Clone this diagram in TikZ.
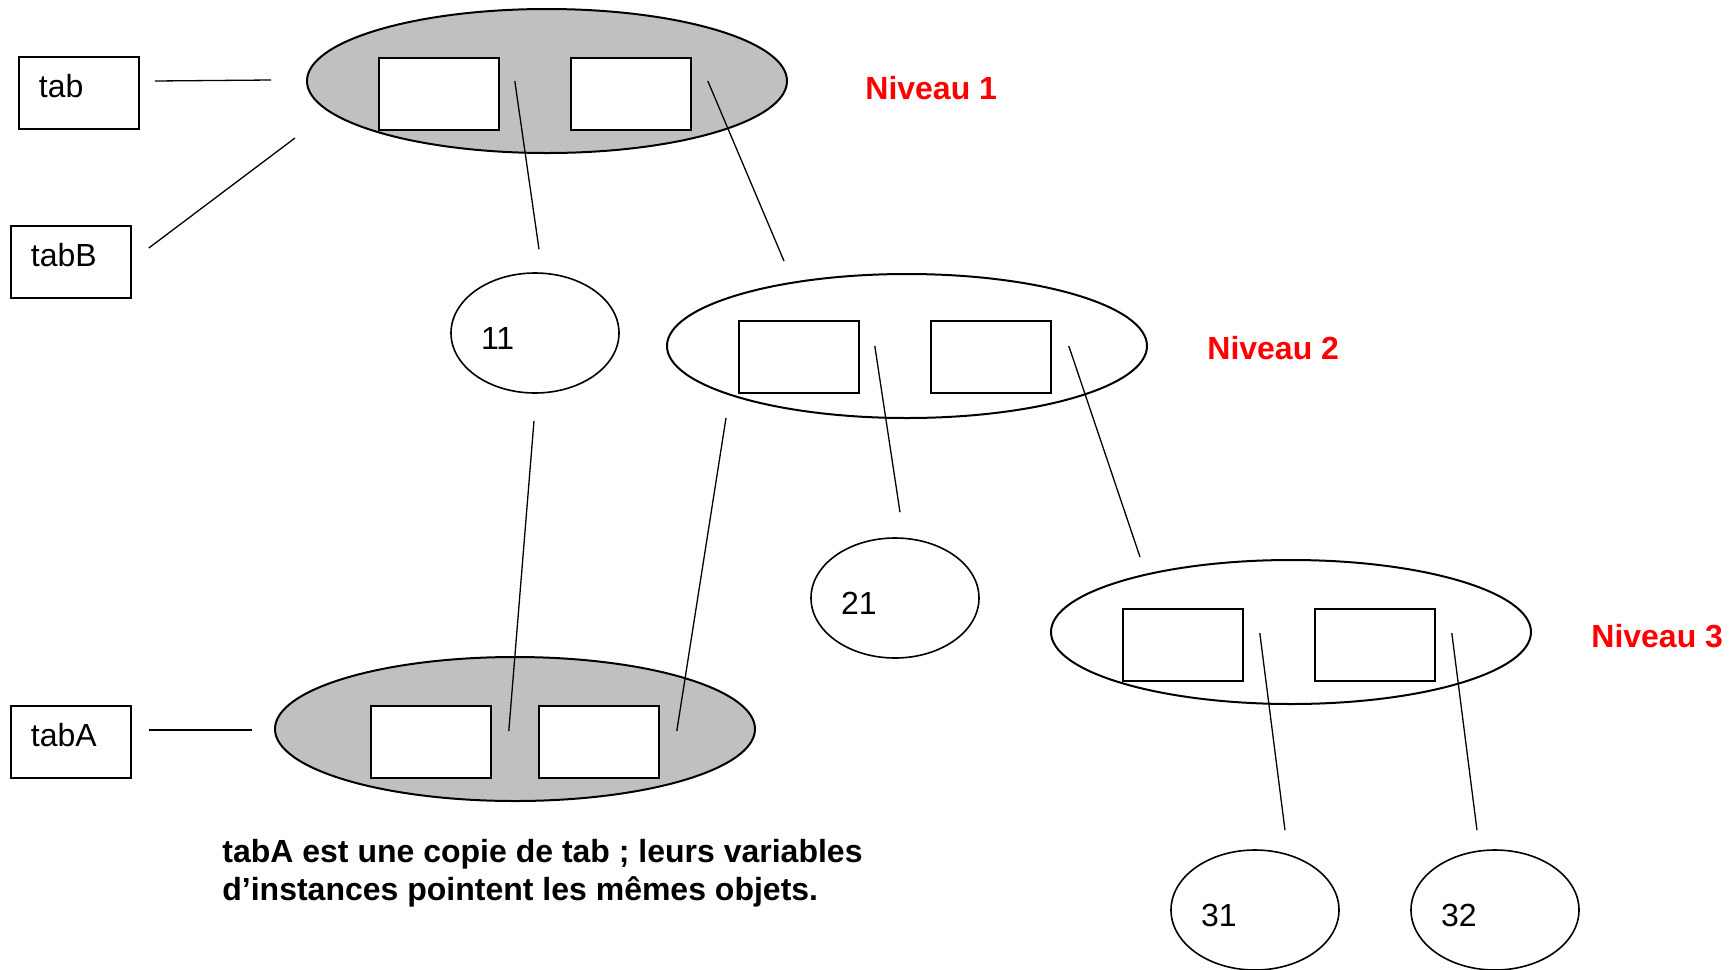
\documentclass[tikz,border=0pt]{standalone}
\usepackage{fontspec}
\setmainfont{Liberation Sans}
\usetikzlibrary{shapes.geometric}
\definecolor{objgray}{RGB}{192,192,192}
\definecolor{levelred}{RGB}{255,0,0}

\begin{document}
\begin{tikzpicture}[
    x=0.5pt, y=-0.5pt,
    every node/.style={font=\fontsize{16}{18.5}\selectfont},
    ref/.style={draw, line width=0.8pt, minimum height=36pt, inner xsep=10pt, inner ysep=0pt,
        text width=40pt, align=left, text height=12pt, text depth=8pt},
    obj/.style={ellipse, draw, line width=1pt, minimum width=240pt, minimum height=72pt},
    cell/.style={draw, fill=white, line width=0.8pt, minimum width=60pt, minimum height=36pt, inner sep=0pt},
    val/.style={ellipse, draw, line width=0.8pt, minimum width=84pt, minimum height=60pt, inner sep=0pt,
        text width=54pt, align=left, text height=16pt, text depth=0pt},
    level/.style={text=levelred, font=\fontsize{16}{18.5}\selectfont\bfseries, anchor=west, inner xsep=0pt},
    link/.style={line width=0.65pt}
]
\useasboundingbox (0,0) rectangle (1731,970);

% references
\node[ref] (tab) at (79,93) {tab};
\node[ref] (tabB) at (71,262) {tabB};
\node[ref] (tabA) at (71,742) {tabA};

% level 1 (shared by tab and tabB)
\node[obj, fill=objgray] (n1) at (547,81) {};
\node[cell] (n1a) at (439,94) {};
\node[cell] (n1b) at (631,94) {};

% copy held by tabA
\node[obj, fill=objgray] (cp) at (515,729) {};
\node[cell] (cpa) at (431,742) {};
\node[cell] (cpb) at (599,742) {};

% level 2
\node[obj] (n2) at (907,346) {};
\node[cell] (n2a) at (799,357) {};
\node[cell] (n2b) at (991,357) {};

% level 3
\node[obj] (n3) at (1291,632) {};
\node[cell] (n3a) at (1183,645) {};
\node[cell] (n3b) at (1375,645) {};

% leaf values
\node[val] (v11) at (535,333) {11};
\node[val] (v21) at (895,598) {21};
\node[val] (v31) at (1255,910) {31};
\node[val] (v32) at (1495,910) {32};

\node[level] (lev1) at (865,88) {Niveau 1};
\node[level] (lev2) at (1207,348) {Niveau 2};
\node[level] (lev3) at (1591,636) {Niveau 3};

\node[font=\fontsize{16}{18.8}\selectfont\bfseries, anchor=north west, align=left, inner sep=0pt]
    (note) at (222,839) {tabA est une copie de tab ; leurs variables\\d’instances pointent les mêmes objets.};

% links
\draw[link] ([shift={(15,-12)}]tab.east) -- ([shift={(-35,-1)}]n1.west);
\draw[link] ([shift={(17,-14)}]tabB.east) -- ([shift={(-11,57)}]n1.west);
\draw[link] ([shift={(17,-12)}]tabA.east) -- ([shift={(-22,1)}]cp.west);
\draw[link] ([shift={(15,-13)}]n1a.east) -- ([shift={(4,-23)}]v11.north);
\draw[link] ([shift={(16,-13)}]n1b.east) -- ([shift={(-123,-12)}]n2.north);
\draw[link] ([shift={(-1,27)}]v11.south) -- ([shift={(17,-11)}]cpa.east);
\draw[link] ([shift={(-181,-1)}]n2.south) -- ([shift={(17,-11)}]cpb.east);
\draw[link] ([shift={(15,-11)}]n2a.east) -- ([shift={(5,-25)}]v21.north);
\draw[link] ([shift={(17,-11)}]n2b.east) -- ([shift={(-151,-2)}]n3.north);
\draw[link] ([shift={(16,-12)}]n3a.east) -- ([shift={(30,-19)}]v31.north);
\draw[link] ([shift={(16,-12)}]n3b.east) -- ([shift={(-18,-19)}]v32.north);

\end{tikzpicture}
\end{document}
